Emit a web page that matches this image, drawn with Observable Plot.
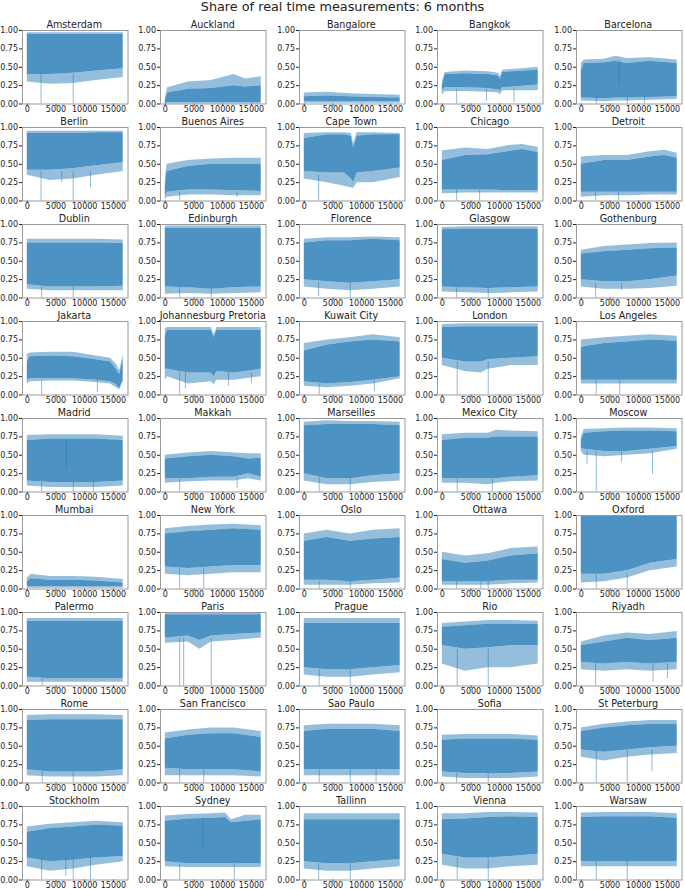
<!DOCTYPE html>
<html>
<head>
<meta charset="utf-8">
<script src="https://cdn.jsdelivr.net/npm/d3@7"></script>
<script src="https://cdn.jsdelivr.net/npm/@observablehq/plot@0.6"></script>
<style>
  html, body { margin: 0; padding: 0; background: #fff; }
  #fig { position: relative; width: 685px; height: 889px; font-family: "DejaVu Sans", sans-serif; color: #222; overflow: hidden; }
  .sup { position: absolute; left: 0; width: 685px; top: -1px; text-align: center; font-size: 12.8px; line-height: 15px; }
  .ttl { position: absolute; text-align: center; font-size: 9.6px; line-height: 11px; white-space: nowrap; }
  .pan { position: absolute; }
</style>
</head>
<body>
<div id="fig"><div class="sup">Share of real time measurements: 6 months</div></div>
<script>
// ---- data ----
const title = "Share of real time measurements: 6 months";
const cities = [
  "Amsterdam","Auckland","Bangalore","Bangkok","Barcelona",
  "Berlin","Buenos Aires","Cape Town","Chicago","Detroit",
  "Dublin","Edinburgh","Florence","Glasgow","Gothenburg",
  "Jakarta","Johannesburg Pretoria","Kuwait City","London","Los Angeles",
  "Madrid","Makkah","Marseilles","Mexico City","Moscow",
  "Mumbai","New York","Oslo","Ottawa","Oxford",
  "Palermo","Paris","Prague","Rio","Riyadh",
  "Rome","San Francisco","Sao Paulo","Sofia","St Peterburg",
  "Stockholm","Sydney","Tallinn","Vienna","Warsaw"
];
const xTicks = [0, 5000, 10000, 15000];
const yTicks = [0, 0.25, 0.5, 0.75, 1];
const xExtent = [0, 16700];
// band envelope per city: rows of [x, lowest trough, dense-band bottom, dense-band top, highest peak]
const bands = [
  [[0,.30,.40,.95,.97],[4000,.27,.40,.95,.97],[8000,.28,.42,.95,.97],[12000,.32,.45,.95,.97],[16700,.36,.48,.95,.97]],
  [[0,0,0,.05,.08],[400,0,.02,.15,.22],[4000,0,.02,.20,.30],[8000,0,.02,.21,.32],[12000,0,.02,.25,.40],[14000,0,.02,.23,.34],[16700,0,.02,.25,.37]],
  [[0,.01,.03,.10,.15],[4000,.01,.03,.11,.16],[8000,.01,.03,.10,.14],[12000,.01,.03,.09,.13],[16700,.01,.03,.08,.12]],
  [[0,.12,.18,.25,.30],[500,.17,.22,.40,.43],[4000,.17,.22,.41,.45],[8000,.16,.21,.40,.44],[9800,.15,.19,.38,.42],[10100,.12,.17,.33,.37],[10500,.18,.22,.43,.46],[14000,.18,.24,.45,.48],[16700,.18,.26,.46,.50]],
  [[0,.04,.08,.45,.55],[500,.04,.08,.55,.60],[4000,.03,.07,.56,.61],[6000,.04,.08,.58,.65],[8000,.04,.08,.55,.62],[12000,.05,.09,.58,.63],[16700,.06,.10,.55,.60]],
  [[0,.35,.42,.92,.95],[4000,.28,.42,.92,.95],[8000,.30,.44,.92,.95],[12000,.35,.48,.93,.95],[16700,.40,.52,.93,.95]],
  [[0,0,.05,.20,.30],[300,.05,.12,.40,.50],[4000,.08,.15,.47,.55],[8000,.08,.15,.50,.57],[12000,.07,.14,.50,.58],[16700,.07,.13,.50,.58]],
  [[0,.30,.40,.85,.92],[4000,.25,.38,.90,.93],[7000,.20,.38,.90,.93],[8200,.18,.30,.88,.92],[8600,.17,.25,.72,.78],[9200,.25,.38,.88,.93],[12000,.25,.40,.90,.93],[16700,.32,.45,.90,.92]],
  [[0,.10,.15,.55,.68],[4000,.11,.15,.62,.72],[8000,.11,.15,.63,.70],[12000,.11,.14,.68,.76],[14000,.11,.14,.70,.77],[16700,.11,.14,.66,.73]],
  [[0,.05,.12,.50,.60],[4000,.07,.12,.55,.62],[8000,.07,.12,.55,.62],[12000,.08,.12,.60,.67],[14500,.08,.12,.62,.69],[16700,.08,.12,.58,.65]],
  [[0,.12,.18,.75,.80],[4000,.10,.15,.75,.80],[8000,.10,.15,.75,.80],[12000,.10,.15,.75,.80],[16700,.10,.16,.74,.79]],
  [[0,.05,.15,.95,.98],[4000,.06,.14,.95,.98],[8000,.05,.12,.95,.98],[12000,.06,.14,.95,.98],[16700,.07,.15,.95,.98]],
  [[0,.15,.25,.75,.80],[4000,.12,.22,.78,.82],[8000,.10,.20,.78,.82],[12000,.12,.22,.80,.83],[16700,.15,.25,.78,.82]],
  [[0,.08,.15,.93,.96],[4000,.07,.14,.94,.97],[8000,.06,.13,.94,.97],[12000,.07,.14,.94,.97],[16700,.08,.15,.94,.97]],
  [[0,.15,.25,.60,.65],[4000,.12,.22,.63,.70],[8000,.12,.22,.65,.72],[12000,.13,.25,.67,.74],[16700,.16,.30,.68,.75]],
  [[0,.15,.20,.45,.55],[500,.18,.22,.52,.57],[4000,.19,.22,.53,.58],[8000,.19,.22,.52,.58],[12000,.17,.20,.48,.53],[14500,.15,.18,.45,.50],[15500,.10,.14,.35,.42],[16100,.07,.09,.28,.33],[16700,.18,.20,.50,.55]],
  [[0,.20,.35,.80,.90],[400,.25,.35,.88,.92],[4000,.15,.30,.88,.92],[8000,.18,.30,.88,.92],[8500,.14,.25,.78,.82],[9000,.20,.32,.88,.92],[12000,.20,.30,.88,.92],[16700,.25,.35,.88,.92]],
  [[0,.12,.18,.60,.70],[4000,.10,.15,.68,.75],[8000,.12,.17,.72,.78],[12000,.15,.20,.75,.82],[16700,.22,.25,.72,.78]],
  [[0,.40,.50,.92,.96],[4000,.32,.45,.93,.97],[6800,.30,.45,.93,.97],[8000,.35,.48,.93,.97],[12000,.40,.50,.93,.97],[16700,.40,.52,.93,.97]],
  [[0,.15,.20,.65,.75],[4000,.15,.20,.70,.78],[8000,.15,.20,.72,.80],[12000,.15,.20,.75,.82],[16700,.15,.20,.73,.80]],
  [[0,.08,.15,.70,.77],[4000,.06,.13,.72,.78],[8000,.06,.13,.72,.78],[12000,.06,.13,.72,.78],[16700,.08,.15,.70,.76]],
  [[0,.12,.18,.45,.50],[4000,.14,.18,.48,.53],[8000,.15,.20,.50,.55],[12000,.15,.20,.48,.53],[14500,.18,.25,.45,.52],[16700,.15,.20,.46,.52]],
  [[0,.15,.25,.90,.95],[4000,.10,.18,.92,.97],[8000,.10,.18,.92,.96],[12000,.13,.22,.92,.96],[16700,.15,.25,.90,.95]],
  [[0,.12,.18,.70,.78],[4000,.12,.18,.73,.80],[8000,.10,.18,.73,.80],[9500,.12,.18,.75,.84],[12000,.14,.20,.75,.83],[16700,.15,.22,.75,.82]],
  [[0,.55,.60,.70,.75],[500,.50,.58,.80,.85],[4000,.48,.55,.82,.86],[8000,.50,.55,.83,.87],[12000,.52,.58,.83,.87],[16700,.58,.62,.82,.86]],
  [[0,.01,.03,.10,.15],[700,.01,.03,.14,.20],[4000,.01,.03,.12,.17],[8000,.01,.03,.12,.17],[12000,.01,.03,.11,.16],[16700,.01,.03,.08,.13]],
  [[0,.20,.30,.75,.82],[4000,.18,.28,.78,.85],[8000,.20,.30,.80,.87],[12000,.22,.32,.82,.88],[16700,.22,.32,.80,.86]],
  [[0,.05,.12,.65,.75],[4000,.05,.12,.70,.80],[8000,.05,.10,.65,.75],[12000,.07,.12,.68,.80],[16700,.08,.15,.70,.82]],
  [[0,.05,.10,.40,.50],[4000,.05,.10,.35,.45],[8000,.05,.10,.38,.48],[12000,.07,.12,.45,.55],[16700,.08,.12,.48,.57]],
  [[0,.08,.20,1,1],[4000,.10,.20,1,1],[8000,.15,.25,1,1],[12000,.25,.35,1,1],[16700,.30,.40,1,1]],
  [[0,.05,.12,.88,.92],[4000,.05,.10,.88,.92],[8000,.05,.10,.88,.92],[12000,.05,.10,.88,.92],[16700,.05,.10,.88,.92]],
  [[0,.58,.65,.97,1],[4000,.60,.68,.97,1],[6000,.50,.62,.97,1],[8000,.60,.68,.97,1],[12000,.62,.70,.97,1],[16700,.65,.72,.97,1]],
  [[0,.15,.25,.85,.92],[4000,.12,.22,.85,.92],[8000,.12,.22,.85,.92],[12000,.15,.25,.85,.92],[16700,.18,.28,.85,.92]],
  [[0,.30,.55,.80,.85],[4000,.20,.50,.82,.87],[8000,.25,.52,.84,.89],[12000,.25,.55,.84,.89],[16700,.30,.55,.84,.88]],
  [[0,.22,.32,.55,.60],[4000,.20,.30,.60,.68],[8000,.22,.32,.65,.72],[12000,.20,.30,.62,.70],[16700,.22,.32,.65,.74]],
  [[0,.10,.18,.85,.92],[4000,.08,.15,.86,.93],[8000,.08,.15,.86,.93],[12000,.08,.15,.86,.93],[16700,.10,.18,.86,.92]],
  [[0,.10,.20,.60,.68],[4000,.10,.18,.65,.72],[8000,.10,.18,.67,.75],[12000,.10,.18,.67,.75],[16700,.08,.15,.62,.70]],
  [[0,.10,.18,.70,.78],[4000,.10,.18,.73,.80],[8000,.10,.18,.73,.80],[12000,.10,.18,.73,.80],[16700,.10,.18,.70,.78]],
  [[0,.08,.15,.58,.65],[4000,.06,.13,.60,.66],[8000,.06,.13,.60,.66],[12000,.06,.13,.60,.66],[16700,.08,.15,.58,.64]],
  [[0,.35,.45,.70,.75],[4000,.30,.42,.75,.80],[8000,.35,.45,.78,.83],[12000,.38,.48,.80,.85],[16700,.40,.50,.80,.85]],
  [[0,.18,.30,.65,.72],[4000,.12,.25,.70,.76],[8000,.15,.27,.72,.78],[12000,.20,.30,.75,.80],[16700,.25,.32,.73,.78]],
  [[0,.18,.25,.80,.87],[4000,.17,.22,.83,.89],[8000,.17,.22,.84,.90],[10500,.17,.22,.85,.91],[11500,.17,.22,.78,.82],[14000,.17,.22,.80,.88],[16700,.17,.22,.82,.88]],
  [[0,.15,.25,.82,.90],[4000,.12,.22,.82,.90],[8000,.12,.22,.82,.90],[12000,.15,.25,.82,.90],[16700,.18,.28,.82,.90]],
  [[0,.20,.35,.82,.90],[4000,.15,.30,.83,.90],[8000,.15,.30,.85,.92],[12000,.18,.32,.86,.92],[16700,.20,.35,.85,.91]],
  [[0,.18,.25,.85,.91],[4000,.18,.25,.86,.92],[8000,.18,.25,.86,.92],[12000,.18,.25,.86,.92],[16700,.18,.25,.84,.90]]
];
// isolated downward spikes per city: [x, bottom, top]
const dips = [
  [[2400,0,.4],[8000,0,.4]],
  [],
  [],
  [[2500,0,.2],[7700,.04,.2],[12500,.02,.2]],
  [[2600,0,.1],[6600,.25,.6],[8000,0,.1],[11000,0,.1]],
  [[2400,0,.4],[8000,0,.4],[11000,.18,.4],[6000,.25,.4]],
  [[2500,0,.12],[12500,.05,.12]],
  [[2500,0,.35]],
  [[2500,0,.15],[6500,0,.15]],
  [[2500,0,.12],[6500,0,.12]],
  [[2500,0,.15],[8000,0,.15]],
  [[2500,0,.14],[8000,0,.14]],
  [[2500,.02,.2],[8000,0,.2]],
  [[2500,0,.14],[8000,0,.14]],
  [[2500,0,.2],[7000,.1,.2]],
  [[2500,0,.2],[12200,.03,.2]],
  [[2500,0,.3],[3500,.08,.3],[11000,.12,.3],[15000,.15,.3]],
  [[2600,0,.15],[12200,.05,.2]],
  [[2600,0,.45],[8000,0,.45]],
  [[2600,0,.2],[6700,0,.2]],
  [[2500,0,.13],[6800,.3,.7],[8000,0,.13],[11500,0,.13]],
  [[2500,0,.18],[12500,.05,.2]],
  [[2600,0,.2],[8000,0,.2]],
  [[2600,0,.18],[8700,0,.18]],
  [[2600,0,.55],[12400,.24,.55],[1000,.37,.55],[7000,.4,.55]],
  [],
  [[2500,0,.28],[6700,0,.28]],
  [[2600,0,.1],[8000,0,.1]],
  [[2500,0,.1],[6700,0,.1],[8000,0,.1]],
  [[2600,0,.2],[8000,0,.2]],
  [[2600,0,.1]],
  [[2500,0,.65],[3200,0,.65],[8000,0,.65]],
  [[2600,0,.22],[8000,0,.22]],
  [[2600,0,.5],[8000,0,.5]],
  [[2500,0,.3],[12500,.05,.3],[15000,.1,.3]],
  [[2600,0,.15],[8000,0,.15]],
  [[2500,0,.18],[6700,0,.18]],
  [[2600,0,.18],[8000,0,.18],[12500,0,.18]],
  [[2500,0,.13],[8000,0,.13]],
  [[2600,0,.45],[8000,0,.45],[12300,.15,.45]],
  [[2500,0,.3],[6700,.05,.3],[8000,0,.3],[11000,0,.3]],
  [[2500,0,.22],[12000,0,.22],[6500,.4,.8]],
  [[2500,0,.22],[8000,0,.22]],
  [[2600,0,.3],[8000,0,.3]],
  [[2600,0,.25],[8000,0,.25]]
];

// ---- layout ----
const fig = document.getElementById("fig");
const nCols = 5;
const frameW = 105.5, frameH = 73.5;
const colPitch = 138.5, rowPitch = 97;
const left0 = 21.5, top0 = 30;
const mL = 24, mR = 4, mT = 4, mB = 12;
const pad = (xExtent[1] - xExtent[0]) * 0.05;
const blue = "#1f77b4";

cities.forEach((name, i) => {
  const c = i % nCols, r = Math.floor(i / nCols);
  const fl = left0 + c * colPitch, ft = top0 + r * rowPitch;
  const rows = bands[i];
  const plot = Plot.plot({
    width: mL + frameW + mR,
    height: mT + frameH + mB,
    marginLeft: mL, marginRight: mR, marginTop: mT, marginBottom: mB,
    style: { fontFamily: "DejaVu Sans, sans-serif", fontSize: "8px", color: "#222", background: "transparent", overflow: "visible" },
    x: { domain: [xExtent[0] - pad, xExtent[1] + pad], ticks: xTicks, tickFormat: d3.format("d"), tickSize: 2.5, tickPadding: 0, label: null },
    y: { domain: [0, 1], ticks: yTicks, tickFormat: d3.format(".2f"), tickSize: 3, tickPadding: 1.5, label: null },
    marks: [
      Plot.ruleX(dips[i], { x: d => d[0], y1: d => d[1], y2: d => d[2], stroke: blue, strokeOpacity: 0.5, strokeWidth: 1 }),
      Plot.areaY(rows, { x: d => d[0], y1: d => d[1], y2: d => d[2], fill: blue, fillOpacity: 0.48 }),
      Plot.areaY(rows, { x: d => d[0], y1: d => d[2], y2: d => d[3], fill: blue, fillOpacity: 0.8 }),
      Plot.areaY(rows, { x: d => d[0], y1: d => d[3], y2: d => d[4], fill: blue, fillOpacity: 0.48 }),
      Plot.frame({ stroke: "#9a9a9a", strokeWidth: 1 })
    ]
  });
  const holder = document.createElement("div");
  holder.className = "pan";
  holder.style.left = (fl - mL) + "px";
  holder.style.top = (ft - mT) + "px";
  holder.appendChild(plot);
  fig.appendChild(holder);

  const t = document.createElement("div");
  t.className = "ttl";
  t.style.left = (fl - 20) + "px";
  t.style.width = (frameW + 40) + "px";
  t.style.top = (ft - 10.8) + "px";
  t.textContent = name;
  fig.appendChild(t);
});
</script>
</body>
</html>
